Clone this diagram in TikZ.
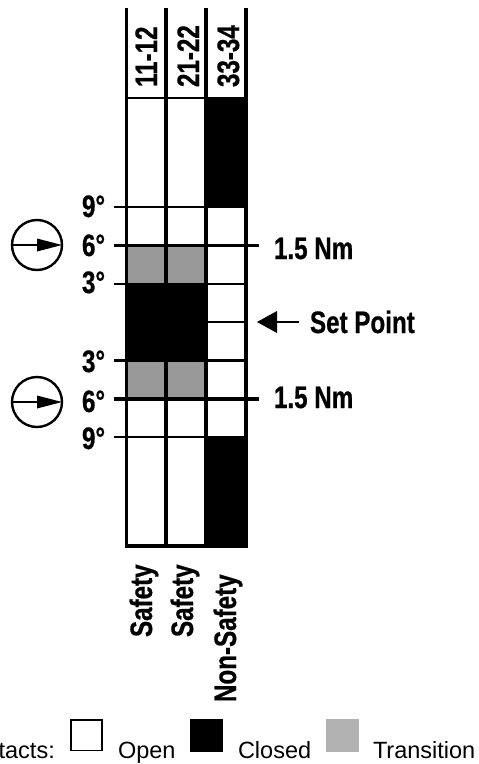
\documentclass[tikz,border=0pt]{standalone}
\usepackage{fontspec}
\setmainfont{Liberation Sans}
\newfontfamily\cond{Liberation Sans}[FakeStretch=0.78,BoldFeatures={FakeBold=0.7}]
\tikzset{
  x=1pt,y=-1pt,
  lab/.style={inner sep=0pt,outer sep=0pt,font=\cond\bfseries\fontsize{31}{33}\selectfont},
  hlab/.style={lab,anchor=base west},
  vlab/.style={lab,anchor=base west,rotate=90},
  leg/.style={inner sep=0pt,outer sep=0pt,anchor=base west,font=\fontsize{23.5}{26}\selectfont},
  grid/.style={line width=3.2pt,line cap=butt},
  tick/.style={line width=2.6pt},
  major/.style={line width=3.2pt},
  closed/.style={fill=black,draw=none},
  trans/.style={fill=black!40,draw=none},
  gauge/.style={circle,draw,line width=2.4pt,minimum size=50pt,inner sep=0pt},
  needle/.style={line width=2.2pt},
}
\begin{document}
\begin{tikzpicture}
\useasboundingbox (0,0) rectangle (479,764);
% fills
\fill[closed] (205,98) rectangle (248,208);
\fill[closed] (205,437) rectangle (248,547.5);
\fill[closed] (125,284) rectangle (208,360);
\fill[trans] (126.5,245) rectangle (206,284);
\fill[trans] (126.5,360) rectangle (206,399);
% verticals
\draw[grid] (126.5,8) -- (126.5,547.5);
\draw[grid] (166,8) -- (166,546);
\draw[grid] (206,8) -- (206,546);
\draw[grid] (246,8) -- (246,547.5);
\draw[grid] (125,546) -- (248,546);
% horizontals
\draw[tick] (126.5,98) -- (246,98);
\draw[tick] (114,207) -- (246,207);
\draw[major] (114,245.5) -- (259,245.5);
\draw[tick] (114,284) -- (246,284);
\draw[tick] (206,322) -- (246,322);
\draw[tick] (114,360.5) -- (246,360.5);
\draw[major] (114,399) -- (259,399);
\draw[tick] (114,437) -- (246,437);
% header
\node[vlab] (h1) at (157,87) {11-12};
\node[vlab] (h2) at (199,87) {21-22};
\node[vlab] (h3) at (239,87) {33-34};
% degree labels
\node[hlab] (d9a) at (82,217) {9°};
\node[hlab] (d6a) at (82,256) {6°};
\node[hlab] (d3a) at (82,293) {3°};
\node[hlab] (d3b) at (82,372) {3°};
\node[hlab] (d6b) at (82,412) {6°};
\node[hlab] (d9b) at (82,449) {9°};
% right labels
\node[hlab] (nma) at (274,259) {1.5 Nm};
\node[hlab] (nmb) at (274,408) {1.5 Nm};
\node[hlab] (sp) at (310,333) {Set Point};
\coordinate (sptail) at (299,322);
\coordinate (sptip) at (257,322);
\coordinate (spbase) at (277,322);
\draw[line width=1.8pt] (sptail) -- (spbase);
\fill (sptip) -- (277,311) -- (277,333) -- cycle;
% gauges
\node[gauge] (ga) at (37,245) {};
\node[gauge] (gb) at (37,402) {};
\draw[needle] (ga.west) -- (ga.center);
\fill (37,238.5) -- (62,245) -- (37,251.5) -- cycle;
\draw[needle] (gb.west) -- (gb.center);
\fill (37,395.5) -- (62,402) -- (37,408.5) -- cycle;
% bottom labels
\node[vlab] (s1) at (152,637) {Safety};
\node[vlab] (s2) at (193,637) {Safety};
\node[vlab] (s3) at (236,702) {Non-Safety};
% legend
\node[inner sep=0pt,anchor=base east,font=\fontsize{23.5}{26}\selectfont] (lc) at (55,758) {Contacts:};
\draw[line width=1.5pt] (71,720) rectangle (102,750.5);
\fill[black] (190,719) rectangle (223,752);
\fill[black!30] (326,719) rectangle (359,752);
\node[leg] (lo) at (118,758) {Open};
\node[leg] (lcl) at (238,758) {Closed};
\node[leg] (lt) at (373,758) {Transition};
\end{tikzpicture}
\end{document}
